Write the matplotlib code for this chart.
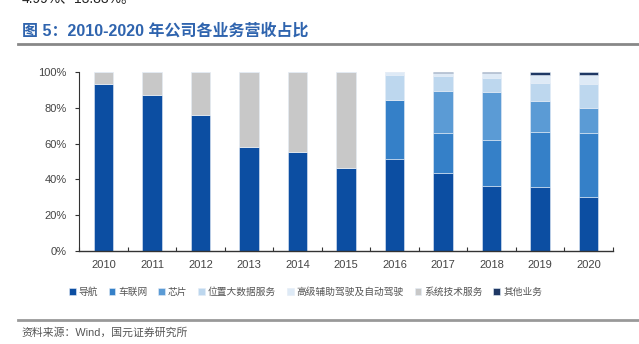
import numpy as np
import matplotlib.pyplot as plt

plt.rcParams['font.family'] = ['Liberation Sans', 'Noto Sans CJK SC', 'DejaVu Sans']

# Revenue share by business line, 2010-2020 (%)
years = ['2010', '2011', '2012', '2013', '2014', '2015',
         '2016', '2017', '2018', '2019', '2020']
navigation = [93.6, 87.1, 76.1, 58.1, 55.3, 46.5, 51.6, 43.7, 36.3, 35.9, 29.9]
telematics = [0, 0, 0, 0, 0, 0, 32.6, 22.1, 25.6, 30.5, 35.9]
chips = [0, 0, 0, 0, 0, 0, 0, 23.7, 26.9, 17.3, 13.9]
location_data = [0, 0, 0, 0, 0, 0, 14.3, 8.4, 8.0, 10.5, 13.83]
adas = [0, 0, 0, 0, 0, 0, 1.5, 1.8, 2.6, 4.5, 4.99]
system_services = [6.4, 12.9, 23.9, 41.9, 44.7, 53.5, 0, 0, 0, 0, 0]
other = [0, 0, 0, 0, 0, 0, 0, 0.3, 0.6, 1.3, 1.48]

series = [
    ('导航', navigation, '#0C4EA2'),
    ('车联网', telematics, '#3580C8'),
    ('芯片', chips, '#5B9BD5'),
    ('位置大数据服务', location_data, '#BDD7EE'),
    ('高级辅助驾驶及自动驾驶', adas, '#DEEAF6'),
    ('系统技术服务', system_services, '#C8C8C8'),
    ('其他业务', other, '#1F3864'),
]

fig = plt.figure(figsize=(6.39, 3.44), dpi=100)
ax = fig.add_axes([0.124, 0.271, 0.835, 0.519])

x = np.arange(len(years))
bottom = np.zeros(len(years))
handles = []
for name, vals, color in series:
    vals = np.array(vals) / 100.0
    h = ax.bar(x, vals, width=0.41, bottom=bottom, color=color,
               edgecolor='#E4ECF6', linewidth=0.4, label=name)
    handles.append(h)
    bottom += vals

ax.set_xlim(-0.5, len(years) - 0.5)
ax.set_ylim(0, 1)
ax.set_yticks(np.arange(0, 1.01, 0.2))
ax.set_yticklabels([f'{int(v * 100)}%' for v in np.arange(0, 1.01, 0.2)],
                   fontsize=8, color='#444444')
ax.tick_params(axis='y', length=3, width=0.8, color='#333333', pad=6)

# year labels at the bar centres, tick marks at category boundaries
ax.set_xticks(x)
ax.set_xticklabels(years, fontsize=8, color='#444444')
ax.tick_params(axis='x', length=0, pad=7)
ax.set_xticks(np.arange(-0.5, len(years)), minor=True)
ax.tick_params(axis='x', which='minor', direction='in', length=3,
               width=0.8, color='#333333')

for side in ['top', 'right']:
    ax.spines[side].set_visible(False)
ax.spines['left'].set_color('#333333')
ax.spines['bottom'].set_color('#333333')
ax.spines['left'].set_linewidth(0.8)
ax.spines['bottom'].set_linewidth(1.0)

fig.legend(handles=handles, loc='center', bbox_to_anchor=(0.478, 0.151),
           ncol=7, frameon=False, fontsize=7, handlelength=0.7,
           handleheight=0.7, handletextpad=0.3, columnspacing=1.1,
           labelcolor='#555555')

# page text around the chart
fig.text(0.034, 1.003, '4.99%、13.83%。', fontsize=10, color='#222222',
         va='center', ha='left')
fig.text(0.034, 0.91, '图 5：2010-2020 年公司各业务营收占比', fontsize=11.5,
         fontweight='bold', color='#2F64AE', va='center', ha='left')
fig.add_artist(plt.Line2D([0.028, 1.0], [0.872, 0.872], color='#888888',
                          lw=2, transform=fig.transFigure))
fig.add_artist(plt.Line2D([0.028, 1.0], [0.070, 0.070], color='#999999',
                          lw=2, transform=fig.transFigure))
fig.text(0.034, 0.032, '资料来源：Wind，国元证券研究所', fontsize=7.8,
         color='#555555', va='center', ha='left')

fig.savefig('out.png', dpi=100)
